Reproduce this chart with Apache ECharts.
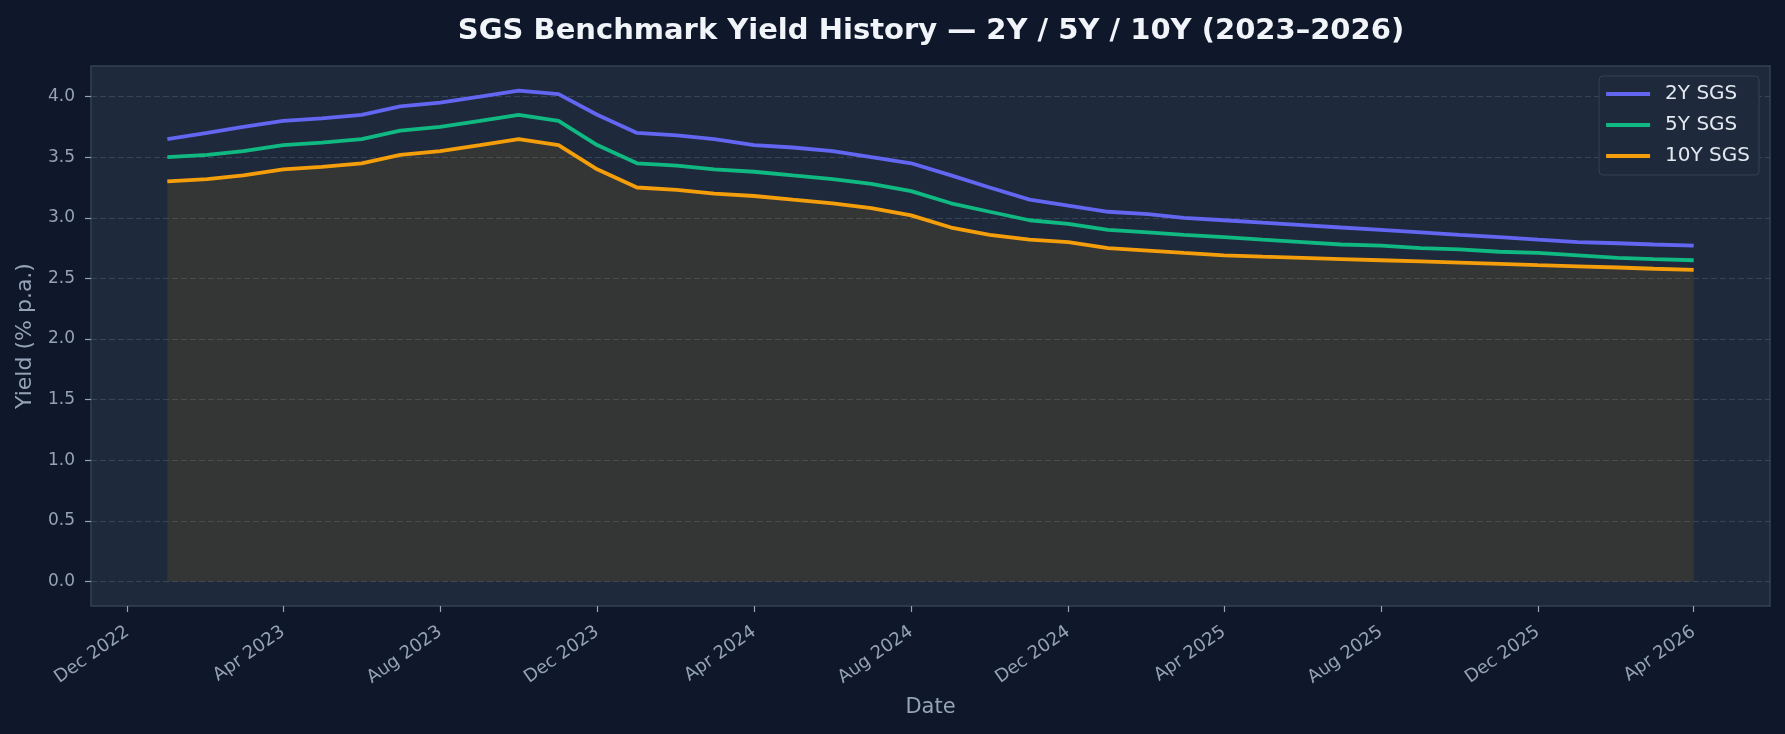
<!DOCTYPE html>
<html>
<head>
<meta charset="utf-8">
<title>SGS Benchmark Yield History</title>
<script src="https://cdn.jsdelivr.net/npm/echarts@6/dist/echarts.min.js"></script>
<style>
  html, body { margin: 0; padding: 0; background: #0f172a; }
  #chart { width: 1785px; height: 734px; }
</style>
</head>
<body>
<div id="chart"></div>
<script>
// monthly observations, Jan 2023 .. Apr 2026
const dates = [
  "2023-01", "2023-02", "2023-03", "2023-04", "2023-05", "2023-06",
  "2023-07", "2023-08", "2023-09", "2023-10", "2023-11", "2023-12",
  "2024-01", "2024-02", "2024-03", "2024-04", "2024-05", "2024-06",
  "2024-07", "2024-08", "2024-09", "2024-10", "2024-11", "2024-12",
  "2025-01", "2025-02", "2025-03", "2025-04", "2025-05", "2025-06",
  "2025-07", "2025-08", "2025-09", "2025-10", "2025-11", "2025-12",
  "2026-01", "2026-02", "2026-03", "2026-04",
];
const yield2Y = [
  3.65, 3.70, 3.75, 3.80, 3.82, 3.85, 3.92, 3.95, 4.00, 4.05, 4.02, 3.85,
  3.70, 3.68, 3.65, 3.60, 3.58, 3.55, 3.50, 3.45, 3.35, 3.25, 3.15, 3.10,
  3.05, 3.03, 3.00, 2.98, 2.96, 2.94, 2.92, 2.90, 2.88, 2.86, 2.84, 2.82,
  2.80, 2.79, 2.78, 2.77,
];
const yield5Y = [
  3.50, 3.52, 3.55, 3.60, 3.62, 3.65, 3.72, 3.75, 3.80, 3.85, 3.80, 3.60,
  3.45, 3.43, 3.40, 3.38, 3.35, 3.32, 3.28, 3.22, 3.12, 3.05, 2.98, 2.95,
  2.90, 2.88, 2.86, 2.84, 2.82, 2.80, 2.78, 2.77, 2.75, 2.74, 2.72, 2.71,
  2.69, 2.67, 2.66, 2.65,
];
const yield10Y = [
  3.30, 3.32, 3.35, 3.40, 3.42, 3.45, 3.52, 3.55, 3.60, 3.65, 3.60, 3.40,
  3.25, 3.23, 3.20, 3.18, 3.15, 3.12, 3.08, 3.02, 2.92, 2.86, 2.82, 2.80,
  2.75, 2.73, 2.71, 2.69, 2.68, 2.67, 2.66, 2.65, 2.64, 2.63, 2.62, 2.61,
  2.60, 2.59, 2.58, 2.57,
];
const tickDates = [
  "2022-12", "2023-04", "2023-08", "2023-12", "2024-04", "2024-08",
  "2024-12", "2025-04", "2025-08", "2025-12", "2026-04",
];
const tickLabels = [
  "Dec 2022", "Apr 2023", "Aug 2023", "Dec 2023", "Apr 2024", "Aug 2024",
  "Dec 2024", "Apr 2025", "Aug 2025", "Dec 2025", "Apr 2026",
];
const yTicks = [0, 0.5, 1.0, 1.5, 2.0, 2.5, 3.0, 3.5, 4.0];

const DAY = 86400000;
function dayNumber(ym) {
  const [y, m] = ym.split("-").map(Number);
  return Date.UTC(y, m - 1, 1) / DAY;
}

const xs = dates.map(dayNumber);
const tickDays = tickDates.map(dayNumber);
// matplotlib-style 5% margins
const xPad = (xs[xs.length - 1] - xs[0]) * 0.05;
const yTop = Math.max(...yield2Y);
const yPad = yTop * 0.05;

const toPoints = (values) => values.map((v, i) => [xs[i], v]);

const TICK_GREY = "#94a3b8";
const FONT = "DejaVu Sans";

const chart = echarts.init(document.getElementById("chart"));
chart.setOption({
  animation: false,
  backgroundColor: "#0f172a",
  textStyle: { fontFamily: FONT },
  title: {
    text: "SGS Benchmark Yield History — 2Y / 5Y / 10Y (2023–2026)",
    left: 926,
    top: 12,
    textAlign: "center",
    textStyle: { color: "#f1f5f9", fontSize: 29, fontWeight: "bold", fontFamily: FONT },
  },
  legend: {
    orient: "vertical",
    right: 26,
    top: 76,
    icon: "rect",
    itemWidth: 44,
    itemHeight: 4,
    itemGap: 9,
    padding: [7, 9, 8, 7],
    backgroundColor: "#1e293b",
    borderColor: "#334155",
    borderWidth: 1,
    borderRadius: 4,
    textStyle: { color: "#e2e8f0", fontSize: 20, fontFamily: FONT, lineHeight: 22, padding: [0, 0, 0, 10] },
    data: ["2Y SGS", "5Y SGS", "10Y SGS"],
  },
  grid: {
    left: 91,
    right: 15,
    top: 66,
    bottom: 128,
    show: true,
    backgroundColor: "#1e293b",
    borderColor: "#334155",
    borderWidth: 1.5,
  },
  xAxis: {
    type: "value",
    min: xs[0] - xPad,
    max: xs[xs.length - 1] + xPad,
    name: "Date",
    nameLocation: "middle",
    nameGap: 91,
    nameMoveOverlap: false,
    nameTextStyle: { color: TICK_GREY, fontSize: 21, fontFamily: FONT },
    axisLine: { show: false, onZero: false },
    axisTick: {
      show: true,
      length: 6,
      customValues: tickDays,
      lineStyle: { color: TICK_GREY, width: 1.2 },
    },
    axisLabel: {
      customValues: tickDays,
      rotate: 35,
      margin: 24,
      color: TICK_GREY,
      fontSize: 18,
      fontFamily: FONT,
      formatter: (v) => {
        const i = tickDays.indexOf(v);
        return i >= 0 ? tickLabels[i] : "";
      },
    },
    splitLine: { show: false },
  },
  yAxis: {
    type: "value",
    min: -yPad,
    max: yTop + yPad,
    name: "Yield (% p.a.)",
    nameLocation: "middle",
    nameRotate: 90,
    nameGap: 55,
    nameMoveOverlap: false,
    nameTextStyle: { color: TICK_GREY, fontSize: 22, fontFamily: FONT },
    axisLine: { show: false, onZero: false },
    axisTick: {
      show: true,
      length: 6,
      customValues: yTicks,
      lineStyle: { color: TICK_GREY, width: 1.2 },
    },
    axisLabel: {
      customValues: yTicks,
      margin: 16,
      color: TICK_GREY,
      fontSize: 17,
      fontFamily: FONT,
      formatter: (v) => v.toFixed(1),
    },
    splitLine: {
      show: true,
      lineStyle: { color: "rgba(71,85,105,0.6)", type: [6, 3], width: 1 },
    },
  },
  series: [
    {
      name: "2Y SGS",
      type: "line",
      data: toPoints(yield2Y),
      showSymbol: false,
      lineStyle: { color: "#6366f1", width: 3.8 },
      itemStyle: { color: "#6366f1" },
      z: 4,
    },
    {
      name: "5Y SGS",
      type: "line",
      data: toPoints(yield5Y),
      showSymbol: false,
      lineStyle: { color: "#10b981", width: 3.8 },
      itemStyle: { color: "#10b981" },
      z: 4,
    },
    {
      name: "10Y SGS",
      type: "line",
      data: toPoints(yield10Y),
      showSymbol: false,
      lineStyle: { color: "#f59e0b", width: 3.8 },
      itemStyle: { color: "#f59e0b" },
      areaStyle: { color: "rgba(245,158,11,0.15)", origin: 0 },
      z: 3,
    },
  ],
});
</script>
</body>
</html>
